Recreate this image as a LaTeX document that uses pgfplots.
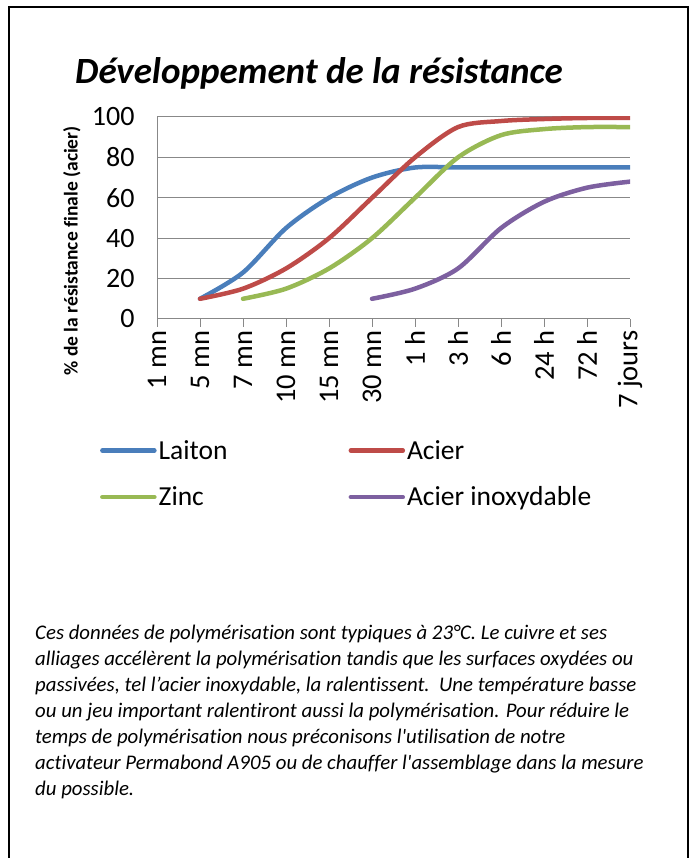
\documentclass[border=0pt]{standalone}
\usepackage{fontspec}
\setmainfont{Carlito}[Ligatures={TeXOff,NoCommon}]
\usepackage{pgfplots}
\pgfplotsset{compat=1.18}
\definecolor{cLaiton}{HTML}{4A7EBB}
\definecolor{cAcier}{HTML}{BE4B48}
\definecolor{cZinc}{HTML}{98B954}
\definecolor{cInox}{HTML}{7D60A0}
\definecolor{cGrid}{HTML}{888888}
\begin{document}
\begin{tikzpicture}[x=1pt,y=1pt]
\path[use as bounding box] (0,0) rectangle (695,858);
\draw[line width=1.2pt] (9,0) -- (9,851) -- (688,851) -- (688,0);
\node[anchor=base west, inner sep=0pt, font=\fontsize{37}{37}\selectfont\bfseries\itshape] at (75,774) {Développement de la résistance};
\begin{axis}[
  at={(157pt,539pt)}, anchor=south west,
  width=473pt, height=202pt, scale only axis,
  xmin=0, xmax=11, ymin=0, ymax=100,
  xtick={0,...,11},
  xticklabels={1 mn,5 mn,7 mn,10 mn,15 mn,30 mn,1 h,3 h,6 h,24 h,72 h,7 jours},
  ytick={0,20,...,100},
  /pgf/number format/assume math mode=true,
  x tick label style={rotate=90, anchor=east, font=\fontsize{28.5}{28.5}\selectfont},
  y tick label style={font=\fontsize{28}{28}\selectfont, xshift=-11pt},
  ymajorgrids, grid style={cGrid, line width=1pt},
  axis x line*=bottom, axis y line*=left,
  axis line style={cGrid, line width=1pt, -},
  major tick length=8pt, tick align=outside,
  xtick style={cGrid, line width=1pt},
  ytick style={draw=none},
  ylabel={\% de la résistance finale (acier)},
  ylabel style={at={(axis description cs:-0.18,0.337)}, anchor=center, font=\fontsize{19.5}{19.5}\selectfont\bfseries},
  legend columns=2,
  legend style={at={(axis description cs:-0.127,-0.58)}, anchor=north west, draw=none, fill=none,
    font=\fontsize{27.5}{27.5}\selectfont, row sep=22pt,
    /tikz/every even column/.append style={column sep=119pt}},
  legend cell align=left,
  legend image code/.code={\draw[#1, line width=4.5pt, line cap=round] (0pt,0pt) -- (52pt,0pt);},
  every axis plot/.append style={line width=4.5pt, line cap=round, smooth},
]
\addplot[cLaiton] coordinates {(1,10) (2,23) (3,45) (4,60) (5,70) (6,75) (7,75) (8,75) (9,75) (10,75) (11,75)};
\addlegendentry{Laiton}
\addplot[cAcier] coordinates {(1,10) (2,15) (3,25) (4,40) (5,60) (6,80) (7,95) (8,98) (9,99) (10,99.5) (11,99.5)};
\addlegendentry{Acier}
\addplot[cZinc] coordinates {(2,10) (3,15) (4,25) (5,40) (6,60) (7,80) (8,91) (9,94) (10,95) (11,95)};
\addlegendentry{Zinc}
\addplot[cInox] coordinates {(5,10) (6,15) (7,25) (8,45) (9,58) (10,65) (11,68)};
\addlegendentry{Acier inoxydable}
\end{axis}
\begin{scope}[every node/.style={anchor=base west, font=\fontsize{20.8}{26}\selectfont\itshape, inner sep=0pt}]
\node at (35,218) {Ces données de polymérisation sont typiques à 23°C. Le cuivre et ses};
\node at (35,192) {alliages accélèrent la polymérisation tandis que les surfaces oxydées ou};
\node at (35,166) {passivées, tel l’acier inoxydable, la ralentissent.\ \ Une température basse};
\node at (35,140) {ou un jeu important ralentiront aussi la polymérisation. Pour réduire le};
\node at (35,114) {temps de polymérisation nous préconisons l'utilisation de notre};
\node at (35,88) {activateur Permabond A905 ou de chauffer l'assemblage dans la mesure};
\node at (35,62) {du possible.};
\end{scope}
\end{tikzpicture}
\end{document}
